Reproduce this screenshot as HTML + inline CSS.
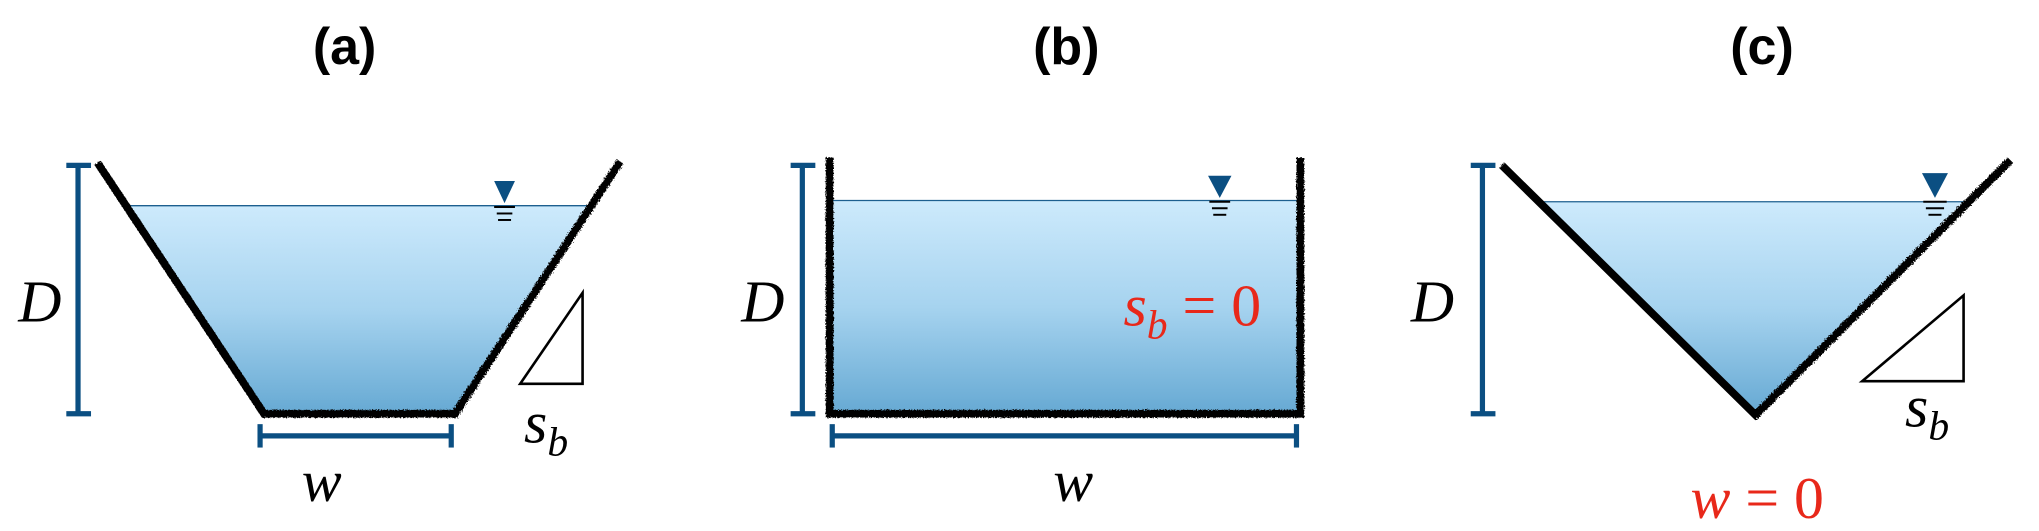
<!DOCTYPE html>
<html><head><meta charset="utf-8"><style>
html,body{margin:0;padding:0;background:#fff;}
svg{display:block;}
.t{font-family:"Liberation Sans",sans-serif;font-weight:bold;font-size:40px;}
.m{font-family:"Liberation Serif",serif;font-style:italic;font-size:46px;}
.r{font-family:"Liberation Serif",serif;font-size:46px;fill:#e8281a;}
</style></head><body>
<svg width="2039" height="531" viewBox="0 0 1568 408" xmlns="http://www.w3.org/2000/svg">
<defs>
<linearGradient id="g" x1="0" y1="0" x2="0" y2="1">
<stop offset="0" stop-color="#cdeafc"/>
<stop offset="0.5" stop-color="#a6d3ef"/>
<stop offset="1" stop-color="#66a9d3"/>
</linearGradient>
<filter id="f"><feTurbulence type="fractalNoise" baseFrequency="0.9" numOctaves="2" result="n"/><feDisplacementMap in="SourceGraphic" in2="n" scale="3"/></filter>
</defs>
<g class="t" text-anchor="middle" fill="#000">
<text x="265" y="49">(a)</text>
<text x="820" y="49">(b)</text>
<text x="1355" y="49">(c)</text>
</g>
<!-- panel a -->
<polygon points="97,158 455,158 350,318 203,318" fill="url(#g)"/>
<line x1="97" y1="158" x2="455" y2="158" stroke="#1d5f8f" stroke-width="1"/>
<polyline points="75,125 203,318 350,318 477,124" fill="none" stroke="#000" stroke-width="6" filter="url(#f)"/>
<g stroke="#0b4f82" stroke-width="4" fill="none">
<line x1="60" y1="127" x2="60" y2="318"/><line x1="51" y1="127" x2="70" y2="127"/><line x1="51" y1="318" x2="70" y2="318"/>
<line x1="200" y1="335" x2="347" y2="335"/><line x1="200" y1="326" x2="200" y2="344"/><line x1="347" y1="326" x2="347" y2="344"/>
</g>
<polygon points="380,139 396,139 388,156" fill="#0b4f82"/>
<g stroke="#000" stroke-width="1.5"><line x1="380" y1="159" x2="396" y2="159"/><line x1="382" y1="164" x2="394" y2="164"/><line x1="383" y1="169" x2="393" y2="169"/></g>
<polygon points="400,295 448,295 448,225" fill="none" stroke="#000" stroke-width="2"/>
<!-- panel b -->
<rect x="640" y="154" width="360" height="164" fill="url(#g)"/>
<line x1="640" y1="154" x2="1000" y2="154" stroke="#1d5f8f" stroke-width="1"/>
<polyline points="638,121 638,318 1000,318 1000,121" fill="none" stroke="#000" stroke-width="6" filter="url(#f)"/>
<g stroke="#0b4f82" stroke-width="4" fill="none">
<line x1="617" y1="127" x2="617" y2="318"/><line x1="608" y1="127" x2="627" y2="127"/><line x1="608" y1="318" x2="627" y2="318"/>
<line x1="640" y1="335" x2="997" y2="335"/><line x1="640" y1="326" x2="640" y2="344"/><line x1="997" y1="326" x2="997" y2="344"/>
</g>
<polygon points="929,135 947,135 938,152" fill="#0b4f82"/>
<g stroke="#000" stroke-width="1.5"><line x1="930" y1="155" x2="946" y2="155"/><line x1="932" y1="160" x2="944" y2="160"/><line x1="933" y1="165" x2="943" y2="165"/></g>
<!-- panel c -->
<polygon points="1180,155 1510,155 1350,318" fill="url(#g)"/>
<line x1="1180" y1="155" x2="1510" y2="155" stroke="#1d5f8f" stroke-width="1"/>
<polyline points="1155,127 1350,319 1546,123" fill="none" stroke="#000" stroke-width="6" filter="url(#f)"/>
<g stroke="#0b4f82" stroke-width="4" fill="none">
<line x1="1140" y1="127" x2="1140" y2="318"/><line x1="1131" y1="127" x2="1150" y2="127"/><line x1="1131" y1="318" x2="1150" y2="318"/>
</g>
<polygon points="1478,133 1498,133 1488,152" fill="#0b4f82"/>
<g stroke="#000" stroke-width="1.5"><line x1="1479" y1="155" x2="1497" y2="155"/><line x1="1481" y1="160" x2="1495" y2="160"/><line x1="1483" y1="165" x2="1493" y2="165"/></g>
<polygon points="1432,293 1510,293 1510,227" fill="none" stroke="#000" stroke-width="2"/>
<!-- labels -->
<g class="m" fill="#000">
<text x="14" y="247">D</text>
<text x="570" y="247">D</text>
<text x="1085" y="247">D</text>
<text x="232" y="385">w</text>
<text x="810" y="385">w</text>
<text x="403" y="340">s<tspan font-size="32" dy="10">b</tspan></text>
<text x="1465" y="328">s<tspan font-size="32" dy="10">b</tspan></text>
</g>
<text class="r" x="864" y="250"><tspan font-style="italic">s</tspan><tspan font-style="italic" font-size="32" dy="10">b</tspan><tspan dy="-10"> = 0</tspan></text>
<text class="r" x="1300" y="398"><tspan font-style="italic">w</tspan> = 0</text>
</svg>
</body></html>
